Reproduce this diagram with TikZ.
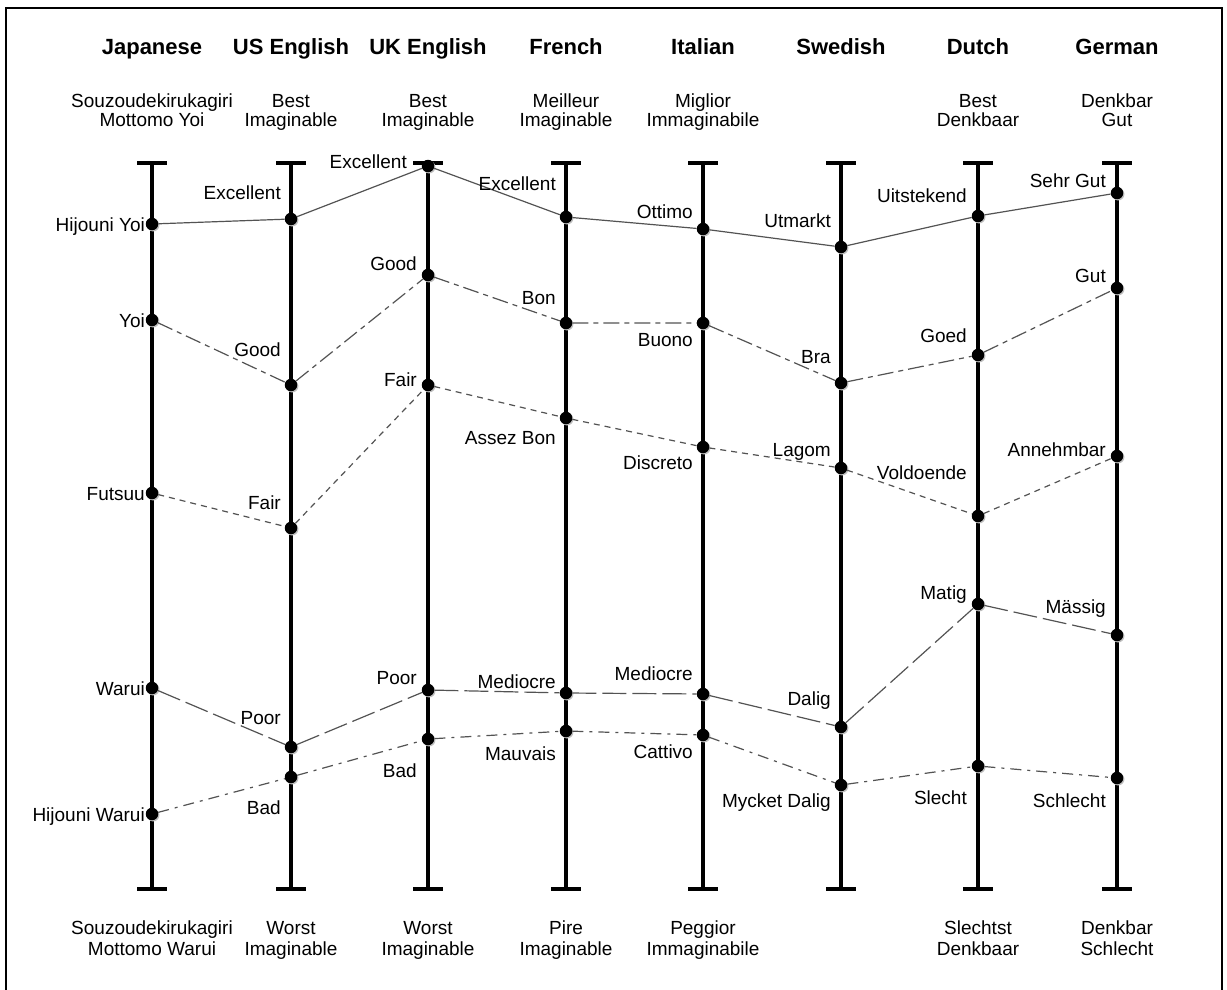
\documentclass[tikz,border=0pt]{standalone}
\usepackage{fontspec}
\setmainfont{Liberation Sans}
\usetikzlibrary{shadows}

\tikzset{
  axisline/.style={line width=4.5pt, line cap=butt},
  axisbar/.style={line width=4pt},
  dot/.style={circle, fill=black, inner sep=0pt, minimum size=12.5pt,
    drop shadow={shadow xshift=1.2pt, shadow yshift=-1.2pt, fill=gray!50, opacity=1}},
  word/.style={anchor=base east, inner sep=0pt, font=\fontsize{19}{19.4}\selectfont},
  langhead/.style={anchor=base, inner sep=0pt, font=\bfseries\fontsize{22}{24}\selectfont},
  endlabel/.style={anchor=base, inner sep=0pt},
  link/.style={draw=gray!65!black, line width=1.2pt},
  tierA/.style={link},
  tierB/.style={link, dash pattern=on 16pt off 5pt on 5pt off 5pt},
  tierC/.style={link, dash pattern=on 6pt off 5pt},
  tierD/.style={link, dash pattern=on 24pt off 6pt},
  tierE/.style={link, dash pattern=on 11pt off 6pt on 3pt off 6pt},
}

\newcommand{\toplabel}[3]{\node[endlabel] (#1) at (#2,107.3)
  {\fontsize{19}{19.4}\selectfont\begin{tabular}[t]{@{}c@{}}#3\end{tabular}};}
\newcommand{\botlabel}[3]{\node[endlabel] (#1) at (#2,934)
  {\fontsize{19}{21.5}\selectfont\begin{tabular}[t]{@{}c@{}}#3\end{tabular}};}

\begin{document}
\begin{tikzpicture}[x=1pt, y=-1pt]
\useasboundingbox (0,0) rectangle (1227,990);

% open frame
\draw[line width=2pt] (6,992) -- (6,8) -- (1222,8) -- (1222,992);

% scale axes with end bars
\foreach \ax in {152,291,428,566,703,841,978,1117} {
  \draw[axisline] (\ax,163) -- (\ax,889);
  \draw[axisbar] (\ax-15,163) -- (\ax+15,163);
  \draw[axisbar] (\ax-15,889) -- (\ax+15,889);
}

% language headings
\node[langhead] (hjp) at (152,55) {Japanese};
\node[langhead] (hus) at (291,55) {US English};
\node[langhead] (huk) at (428,55) {UK English};
\node[langhead] (hfr) at (566,55) {French};
\node[langhead] (hit) at (703,55) {Italian};
\node[langhead] (hsv) at (841,55) {Swedish};
\node[langhead] (hnl) at (978,55) {Dutch};
\node[langhead] (hde) at (1117,55) {German};

% upper anchors of each scale
\toplabel{tjp}{152}{Souzoudekirukagiri\\Mottomo Yoi}
\toplabel{tus}{291}{Best\\Imaginable}
\toplabel{tuk}{428}{Best\\Imaginable}
\toplabel{tfr}{566}{Meilleur\\Imaginable}
\toplabel{tit}{703}{Miglior\\Immaginabile}
\toplabel{tnl}{978}{Best\\Denkbaar}
\toplabel{tde}{1117}{Denkbar\\Gut}

% lower anchors of each scale
\botlabel{bjp}{152}{Souzoudekirukagiri\\Mottomo Warui}
\botlabel{bus}{291}{Worst\\Imaginable}
\botlabel{buk}{428}{Worst\\Imaginable}
\botlabel{bfr}{566}{Pire\\Imaginable}
\botlabel{bit}{703}{Peggior\\Immaginabile}
\botlabel{bnl}{978}{Slechtst\\Denkbaar}
\botlabel{bde}{1117}{Denkbar\\Schlecht}

% scale points
\node[dot] (jp1) at (152,224) {};
\node[dot] (jp2) at (152,320) {};
\node[dot] (jp3) at (152,493) {};
\node[dot] (jp4) at (152,688) {};
\node[dot] (jp5) at (152,814) {};

\node[dot] (us1) at (291,219) {};
\node[dot] (us2) at (291,385) {};
\node[dot] (us3) at (291,528) {};
\node[dot] (us4) at (291,747) {};
\node[dot] (us5) at (291,777) {};

\node[dot] (uk1) at (428,166) {};
\node[dot] (uk2) at (428,275) {};
\node[dot] (uk3) at (428,385) {};
\node[dot] (uk4) at (428,690) {};
\node[dot] (uk5) at (428,739) {};

\node[dot] (fr1) at (566,217) {};
\node[dot] (fr2) at (566,323) {};
\node[dot] (fr3) at (566,418) {};
\node[dot] (fr4) at (566,693) {};
\node[dot] (fr5) at (566,731) {};

\node[dot] (it1) at (703,229) {};
\node[dot] (it2) at (703,323) {};
\node[dot] (it3) at (703,447) {};
\node[dot] (it4) at (703,694) {};
\node[dot] (it5) at (703,735) {};

\node[dot] (sv1) at (841,247) {};
\node[dot] (sv2) at (841,383) {};
\node[dot] (sv3) at (841,468) {};
\node[dot] (sv4) at (841,727) {};
\node[dot] (sv5) at (841,785) {};

\node[dot] (nl1) at (978,216) {};
\node[dot] (nl2) at (978,355) {};
\node[dot] (nl3) at (978,516) {};
\node[dot] (nl4) at (978,604) {};
\node[dot] (nl5) at (978,766) {};

\node[dot] (de1) at (1117,193) {};
\node[dot] (de2) at (1117,288) {};
\node[dot] (de3) at (1117,456) {};
\node[dot] (de4) at (1117,635) {};
\node[dot] (de5) at (1117,778) {};

% links between equivalent terms
\draw[tierA] (jp1) -- (us1) -- (uk1) -- (fr1) -- (it1) -- (sv1) -- (nl1) -- (de1);
\draw[tierB] (jp2) -- (us2) -- (uk2) -- (fr2) -- (it2) -- (sv2) -- (nl2) -- (de2);
\draw[tierC] (jp3) -- (us3) -- (uk3) -- (fr3) -- (it3) -- (sv3) -- (nl3) -- (de3);
\draw[tierD] (jp4) -- (us4) -- (uk4) -- (fr4) -- (it4) -- (sv4) -- (nl4) -- (de4);
\draw[tierE] (jp5) -- (us5) -- (uk5) -- (fr5) -- (it5) -- (sv5) -- (nl5) -- (de5);

% point names
\node[word] (ljp1) at (145,231) {Hijouni Yoi};
\node[word] (ljp2) at (145,327) {Yoi};
\node[word] (ljp3) at (145,500) {Futsuu};
\node[word] (ljp4) at (145,695) {Warui};
\node[word] (ljp5) at (145,821) {Hijouni Warui};

\node[word] (lus1) at (281,199) {Excellent};
\node[word] (lus2) at (281,356) {Good};
\node[word] (lus3) at (281,509) {Fair};
\node[word] (lus4) at (281,724) {Poor};
\node[word] (lus5) at (281,814) {Bad};

\node[word] (luk1) at (407,168) {Excellent};
\node[word] (luk2) at (417,270) {Good};
\node[word] (luk3) at (417,386) {Fair};
\node[word] (luk4) at (417,684) {Poor};
\node[word] (luk5) at (417,777) {Bad};

\node[word] (lfr1) at (556,190) {Excellent};
\node[word] (lfr2) at (556,304) {Bon};
\node[word] (lfr3) at (556,444) {Assez Bon};
\node[word] (lfr4) at (556,688) {Mediocre};
\node[word] (lfr5) at (556,760) {Mauvais};

\node[word] (lit1) at (693,218) {Ottimo};
\node[word] (lit2) at (693,346) {Buono};
\node[word] (lit3) at (693,469) {Discreto};
\node[word] (lit4) at (693,680) {Mediocre};
\node[word] (lit5) at (693,758) {Cattivo};

\node[word] (lsv1) at (831,227) {Utmarkt};
\node[word] (lsv2) at (831,363) {Bra};
\node[word] (lsv3) at (831,456) {Lagom};
\node[word] (lsv4) at (831,705) {Dalig};
\node[word] (lsv5) at (831,807) {Mycket Dalig};

\node[word] (lnl1) at (967,202) {Uitstekend};
\node[word] (lnl2) at (967,342) {Goed};
\node[word] (lnl3) at (967,479) {Voldoende};
\node[word] (lnl4) at (967,599) {Matig};
\node[word] (lnl5) at (967,804) {Slecht};

\node[word] (lde1) at (1106,187) {Sehr Gut};
\node[word] (lde2) at (1106,282) {Gut};
\node[word] (lde3) at (1106,456) {Annehmbar};
\node[word] (lde4) at (1106,613) {Mässig};
\node[word] (lde5) at (1106,807) {Schlecht};
\end{tikzpicture}
\end{document}
